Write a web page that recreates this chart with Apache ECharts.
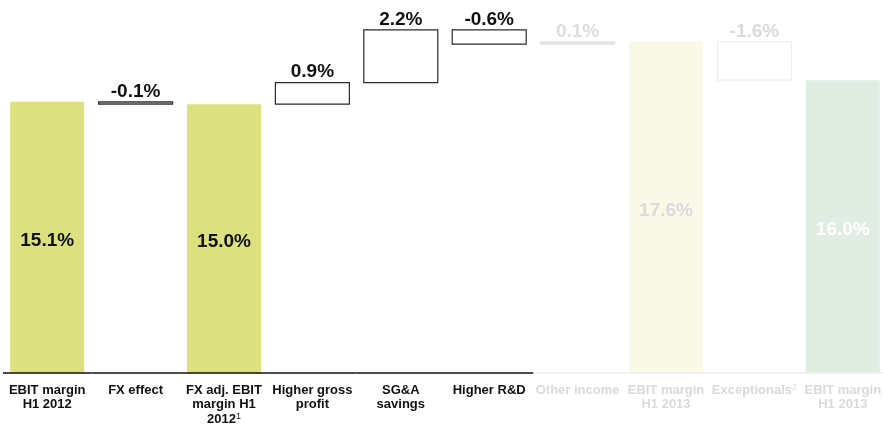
<!DOCTYPE html>
<html>
<head>
<meta charset="utf-8">
<script src="https://cdn.jsdelivr.net/npm/echarts@6/dist/echarts.min.js"></script>
<style>
  html, body { margin: 0; padding: 0; background: #ffffff; }
  #chart { width: 883px; height: 426px; }
</style>
</head>
<body>
<div id="chart"></div>
<script>
// EBIT margin bridge, H1 2012 -> H1 2013 (percent of sales)
const categories = [
  'EBIT margin\nH1 2012',
  'FX effect',
  'FX adj. EBIT\nmargin H1\n2012¹',
  'Higher gross\nprofit',
  'SG&A\nsavings',
  'Higher R&D',
  'Other income',
  'EBIT margin\nH1 2013',
  'Exceptionals²',
  'EBIT margin\nH1 2013'
];
const values = [15.1, -0.1, 15.0, 0.9, 2.2, -0.6, 0.1, 17.6, -1.6, 16.0];
const isTotal = [true, false, true, false, false, false, false, true, false, true];
const muted = [false, false, false, false, false, false, true, true, true, true];
const valueLabels = ['15.1%', '-0.1%', '15.0%', '0.9%', '2.2%', '-0.6%', '0.1%', '17.6%', '-1.6%', '16.0%'];

const FONT = '"Liberation Sans", Arial, Helvetica, sans-serif';

// Running level for the waterfall: totals reset it, deltas move it.
const rows = [];
let level = 0;
values.forEach((v, i) => {
  if (isTotal[i]) {
    rows.push([i, 0, v]);
    level = v;
  } else {
    rows.push([i, level, level + v]);
    level = level + v;
  }
});

// Per-bar styling
function barStyle(i) {
  if (isTotal[i]) {
    if (i === 7) return { fill: '#FAF9E7', stroke: null, text: '#DADADA' };
    if (i === 9) return { fill: '#DFEDE3', stroke: null, text: '#FFFFFF' };
    return { fill: '#DDE07E', stroke: null, text: '#111111' };
  }
  if (i === 1) return { fill: '#A0A0A0', stroke: '#333333', text: '#111111' };
  if (i === 6) return { fill: '#E6E6E6', stroke: '#E2E2E2', text: '#DDDDDD' };
  if (muted[i]) return { fill: '#FFFFFF', stroke: '#EEEEEE', text: '#DADADA' };
  return { fill: '#FFFFFF', stroke: '#2A2A2A', text: '#111111' };
}

function renderBar(params, api) {
  const i = api.value(0);
  const a = api.value(1);
  const b = api.value(2);
  const cs = params.coordSys;
  const band = api.size([1, 0])[0];
  const w = band * 0.837;
  const st = barStyle(i);
  const pHi = api.coord([i, Math.max(a, b)]);
  const pLo = api.coord([i, Math.min(a, b)]);
  const x = pHi[0] - w / 2;
  const y0 = pHi[1];
  const y1 = isTotal[i] ? cs.y + cs.height : pLo[1];
  const children = [{
    type: 'rect',
    shape: { x: x, y: y0, width: w, height: Math.max(y1 - y0, 1) },
    style: st.stroke
      ? { fill: st.fill, stroke: st.stroke, lineWidth: 1.2 }
      : { fill: st.fill }
  }];
  children.push({
    type: 'text',
    style: isTotal[i]
      ? {
          text: valueLabels[i], x: pHi[0], y: (y0 + y1) / 2 + 3,
          align: 'center', verticalAlign: 'middle',
          font: 'bold 19px ' + FONT, fill: st.text
        }
      : {
          text: valueLabels[i], x: pHi[0], y: y0 - 1,
          align: 'center', verticalAlign: 'bottom',
          font: 'bold 19px ' + FONT, fill: st.text
        }
  });
  return { type: 'group', children: children };
}

// Baseline drawn per category so the muted part can be lighter
function renderBase(params, api) {
  const i = api.value(0);
  const cs = params.coordSys;
  const band = api.size([1, 0])[0];
  const c = api.coord([i, 10])[0];
  const y = cs.y + cs.height;
  return {
    type: 'line',
    shape: { x1: c - band / 2, y1: y, x2: c + band / 2, y2: y },
    style: { stroke: muted[i] ? '#EEEEEE' : '#111111', lineWidth: 1.5 }
  };
}

function axisLabel(val, idx) {
  const s = muted[idx] ? 'f' : 'n';
  return val.split('\n').map(line => {
    const m = line.match(/^(.*?)([¹²])$/);
    if (m) {
      const d = m[2] === '¹' ? '1' : '2';
      return '{' + s + '|' + m[1] + '}{' + s + 'sup|' + d + '}';
    }
    return '{' + s + '|' + line + '}';
  }).join('\n');
}

const chart = echarts.init(document.getElementById('chart'), null, { renderer: 'canvas' });
chart.setOption({
  animation: false,
  backgroundColor: '#ffffff',
  grid: { left: 3, width: 884, top: 13, bottom: 53, containLabel: false, outerBoundsMode: 'none' },
  xAxis: {
    type: 'category',
    data: categories,
    axisLine: { show: false },
    axisTick: { show: false },
    axisLabel: {
      interval: 0,
      margin: 10,
      formatter: axisLabel,
      rich: {
        n: { fontFamily: FONT, fontWeight: 'bold', fontSize: 13, color: '#111111', lineHeight: 14.5 },
        nsup: { fontFamily: FONT, fontSize: 9, color: '#111111', verticalAlign: 'top', lineHeight: 12 },
        f: { fontFamily: FONT, fontWeight: 'bold', fontSize: 13, color: '#DADADA', lineHeight: 14.5 },
        fsup: { fontFamily: FONT, fontSize: 9, color: '#DADADA', verticalAlign: 'top', lineHeight: 12 }
      }
    }
  },
  yAxis: {
    type: 'value',
    min: 3.8,
    max: 18.8,
    show: false,
    splitLine: { show: false }
  },
  series: [
    {
      type: 'custom',
      renderItem: renderBar,
      encode: { x: 0, y: [1, 2] },
      data: rows,
      z: 2
    },
    {
      type: 'custom',
      renderItem: renderBase,
      encode: { x: 0 },
      data: categories.map((c, i) => [i]),
      z: 3
    }
  ]
});
</script>
</body>
</html>
